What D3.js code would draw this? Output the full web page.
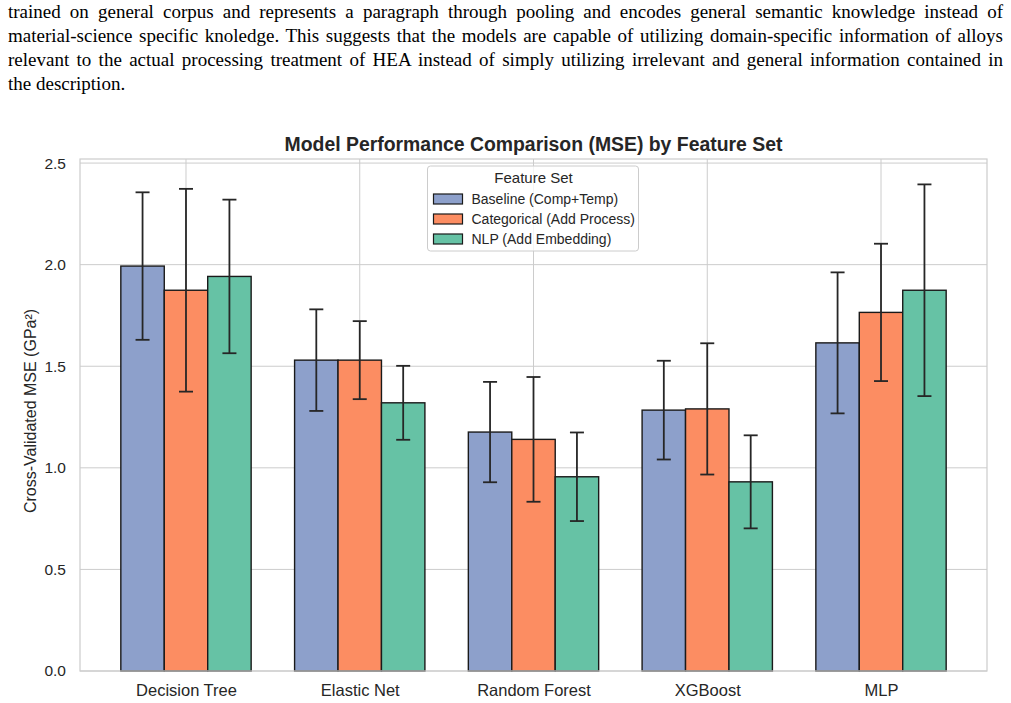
<!DOCTYPE html>
<html>
<head>
<meta charset="utf-8">
<script src="https://cdn.jsdelivr.net/npm/d3@7"></script>
<style>
  body { margin: 0; background: #fff; }
  #para {
    position: absolute; left: 8px; top: 0px; width: 995px;
    font-family: "Liberation Serif", "Times New Roman", serif;
    font-size: 19px; line-height: 24px; color: #000;
  }
  #para .ln { text-align: justify; text-align-last: justify; white-space: nowrap; }
  #para .ln.last { text-align-last: left; }
  #chart { position: absolute; left: 0; top: 0; }
</style>
</head>
<body>
<div id="para">
  <div class="ln">trained on general corpus and represents a paragraph through pooling and encodes general semantic knowledge instead of</div>
  <div class="ln">material-science specific knoledge. This suggests that the models are capable of utilizing domain-specific information of alloys</div>
  <div class="ln">relevant to the actual processing treatment of HEA instead of simply utilizing irrelevant and general information contained in</div>
  <div class="ln last">the description.</div>
</div>
<div id="chart"></div>
<script>
const models = ["Decision Tree", "Elastic Net", "Random Forest", "XGBoost", "MLP"];
const featureSets = ["Baseline (Comp+Temp)", "Categorical (Add Process)", "NLP (Add Embedding)"];
const colors = ["#8da0cb", "#fc8d62", "#66c2a5"];

// mean MSE per model, one array per feature set
const baselineMse = [1.993, 1.530, 1.176, 1.284, 1.615];
const categoricalMse = [1.874, 1.530, 1.140, 1.290, 1.765];
const nlpMse = [1.942, 1.320, 0.956, 0.931, 1.874];

// std of cv folds (error bar half length)
const baselineStd = [0.363, 0.250, 0.247, 0.243, 0.347];
const categoricalStd = [0.499, 0.192, 0.307, 0.323, 0.338];
const nlpStd = [0.378, 0.182, 0.218, 0.229, 0.521];

const yTicks = [0.0, 0.5, 1.0, 1.5, 2.0, 2.5];

const means = [baselineMse, categoricalMse, nlpMse];
const stds = [baselineStd, categoricalStd, nlpStd];

const width = 1011, height = 703;
const margin = {top: 159, right: 24, bottom: 32, left: 80};
const plotW = width - margin.left - margin.right;
const plotH = height - margin.top - margin.bottom;

const svg = d3.select("#chart")
    .append("svg")
    .attr("width", width)
    .attr("height", height)
    .style("font-family", "Liberation Sans, Arial, sans-serif");

const g = svg.append("g")
    .attr("transform", `translate(${margin.left},${margin.top})`);

// numeric x like matplotlib: categories at 0..4
const x = d3.scaleLinear().domain([-0.61, 4.61]).range([0, plotW]);
const y = d3.scaleLinear().domain([0, 2.52]).range([plotH, 0]);
const barW = 0.25;

// grid
g.append("g").selectAll("line")
    .data(yTicks)
    .enter().append("line")
    .attr("x1", 0).attr("x2", plotW)
    .attr("y1", d => y(d)).attr("y2", d => y(d))
    .attr("stroke", "#cccccc").attr("stroke-width", 1);
g.append("g").selectAll("line")
    .data(models)
    .enter().append("line")
    .attr("x1", (d, i) => x(i)).attr("x2", (d, i) => x(i))
    .attr("y1", 0).attr("y2", plotH)
    .attr("stroke", "#cccccc").attr("stroke-width", 1);

// bars
featureSets.forEach((fs, s) => {
  const off = (s - 1) * barW;
  g.append("g").selectAll("rect")
      .data(means[s])
      .enter().append("rect")
      .attr("x", (d, i) => x(i + off - barW / 2))
      .attr("width", x(barW) - x(0))
      .attr("y", d => y(d))
      .attr("height", d => y(0) - y(d))
      .attr("fill", colors[s])
      .attr("stroke", "#1a1a1a")
      .attr("stroke-width", 1.4);
});

// error bars
featureSets.forEach((fs, s) => {
  const off = (s - 1) * barW;
  const eg = g.append("g").attr("stroke", "#262626").attr("stroke-width", 1.8);
  means[s].forEach((m, i) => {
    const cx = x(i + off);
    const lo = y(m - stds[s][i]), hi = y(m + stds[s][i]);
    eg.append("line").attr("x1", cx).attr("x2", cx).attr("y1", lo).attr("y2", hi);
    eg.append("line").attr("x1", cx - 7).attr("x2", cx + 7).attr("y1", lo).attr("y2", lo);
    eg.append("line").attr("x1", cx - 7).attr("x2", cx + 7).attr("y1", hi).attr("y2", hi);
  });
});

// spines
g.append("rect")
    .attr("x", 0).attr("y", 0)
    .attr("width", plotW).attr("height", plotH)
    .attr("fill", "none")
    .attr("stroke", "#cccccc").attr("stroke-width", 1.2);

// y ticks
const yAxis = g.append("g")
    .call(d3.axisLeft(y).tickValues(yTicks).tickFormat(d3.format(".1f")).tickSize(0).tickPadding(14));
yAxis.select(".domain").remove();
yAxis.selectAll("text")
    .style("font-size", "15.5px")
    .style("font-family", "Liberation Sans, Arial, sans-serif")
    .style("fill", "#262626");

// x ticks
const xAxis = g.append("g")
    .attr("transform", `translate(0,${plotH})`)
    .call(d3.axisBottom(x).tickValues(d3.range(models.length)).tickFormat(i => models[i]).tickSize(0).tickPadding(13));
xAxis.select(".domain").remove();
xAxis.selectAll("text")
    .style("font-size", "16.5px")
    .style("font-family", "Liberation Sans, Arial, sans-serif")
    .style("fill", "#262626");

// y label
g.append("text")
    .attr("transform", `translate(${-44},${plotH / 2 - 4}) rotate(-90)`)
    .attr("text-anchor", "middle")
    .style("font-size", "16px")
    .style("fill", "#262626")
    .text("Cross-Validated MSE (GPa²)");

// title
g.append("text")
    .attr("x", plotW / 2)
    .attr("y", -8)
    .attr("text-anchor", "middle")
    .style("font-size", "19.4px")
    .style("font-weight", "bold")
    .style("fill", "#262626")
    .text("Model Performance Comparison (MSE) by Feature Set");

// legend
const lg = g.append("g").attr("transform", `translate(${plotW / 2 - 106},7)`);
lg.append("rect")
    .attr("width", 211).attr("height", 85)
    .attr("rx", 3)
    .attr("fill", "rgba(255,255,255,0.8)")
    .attr("stroke", "#cccccc");
lg.append("text")
    .attr("x", 106).attr("y", 17)
    .attr("text-anchor", "middle")
    .style("font-size", "15px")
    .style("fill", "#262626")
    .text("Feature Set");
featureSets.forEach((fs, s) => {
  const ly = 28 + s * 20;
  lg.append("rect")
      .attr("x", 6).attr("y", ly)
      .attr("width", 29).attr("height", 10)
      .attr("fill", colors[s])
      .attr("stroke", "#1a1a1a").attr("stroke-width", 1.2);
  lg.append("text")
      .attr("x", 44).attr("y", ly + 10)
      .style("font-size", "14px")
      .style("fill", "#262626")
      .text(fs);
});
</script>
</body>
</html>
